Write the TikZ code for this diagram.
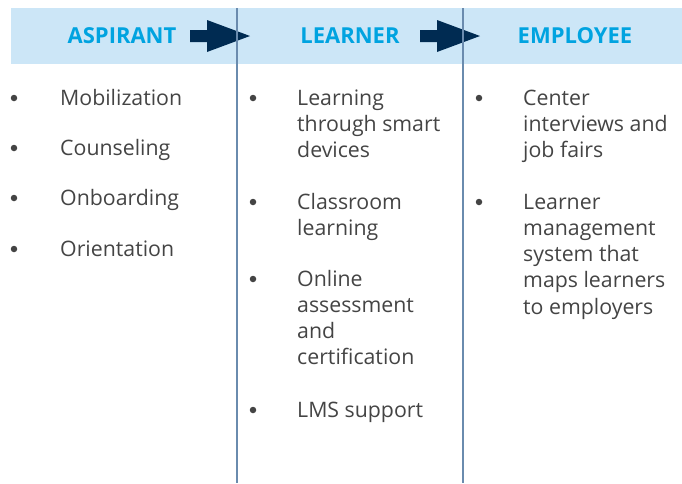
\documentclass[tikz,border=0pt]{standalone}
\usepackage{fontspec}
\setmainfont{Open Sans}
\definecolor{band}{HTML}{CCE6F7}
\definecolor{head}{HTML}{00A3E0}
\definecolor{navy}{HTML}{002B52}
\definecolor{rule}{HTML}{6A8BAE}
\definecolor{body}{HTML}{444444}
\tikzset{
  heading/.style={font=\fontsize{22}{26}\selectfont\bfseries, text=head, inner sep=0, anchor=base},
  item/.style={font=\fontsize{21.3}{26.3}\selectfont, text=body, inner sep=0, anchor=base west},
  bullet/.style={circle, fill=body, inner sep=0, minimum size=6.5pt},
  divider/.style={draw=rule, line width=2.3pt},
  flow/.style={fill=navy}
}
\newcommand{\lns}[1]{\begin{tabular}[t]{@{}l@{}}#1\end{tabular}}
\begin{document}
\begin{tikzpicture}[x=1pt,y=-1pt]
\useasboundingbox (0,0) rectangle (682,483);
\fill[band] (11,8) rectangle (682,64);
% headings
\node[heading] (asp) at (122,43) {ASPIRANT};
\node[heading] (lea) at (350,43) {LEARNER};
\node[heading] (emp) at (575,43) {EMPLOYEE};
% arrows
\fill[flow] (190,30) -- (207,30) -- (207,20) -- (250,36) -- (207,52) -- (207,42) -- (190,42) -- cycle;
\fill[flow] (420,30) -- (437,30) -- (437,20) -- (480,36) -- (437,52) -- (437,42) -- (420,42) -- cycle;
% dividers
\coordinate (d1t) at (237,8); \coordinate (d1b) at (237,483);
\coordinate (d2t) at (463,8); \coordinate (d2b) at (463,483);
\draw[divider] (d1t) -- (d1b);
\draw[divider] (d2t) -- (d2b);
% column 1
\foreach \y/\t [count=\i] in {105/Mobilization,155/Counseling,205/Onboarding,256/Orientation}{
  \node[bullet] (a\i b) at (14,\y-7) {};
  \node[item] (a\i) at (60,\y) {\t};
}
% column 2
\node[bullet] (l1b) at (253,98) {};
\node[item] (l1) at (297,105) {\lns{Learning\\through smart\\devices}};
\node[bullet] (l2b) at (253,202) {};
\node[item] (l2) at (297,209) {\lns{Classroom\\learning}};
\node[bullet] (l3b) at (253,279) {};
\node[item] (l3) at (297,286) {\lns{Online\\assessment\\and\\certification}};
\node[bullet] (l4b) at (253,410) {};
\node[item] (l4) at (297,417) {LMS support};
% column 3
\node[bullet] (e1b) at (479,98) {};
\node[item] (e1) at (523,105) {\lns{Center\\interviews and\\job fairs}};
\node[bullet] (e2b) at (479,202) {};
\node[item] (e2) at (523,209) {\lns{Learner\\management\\system that\\maps learners\\to employers}};
\end{tikzpicture}
\end{document}
